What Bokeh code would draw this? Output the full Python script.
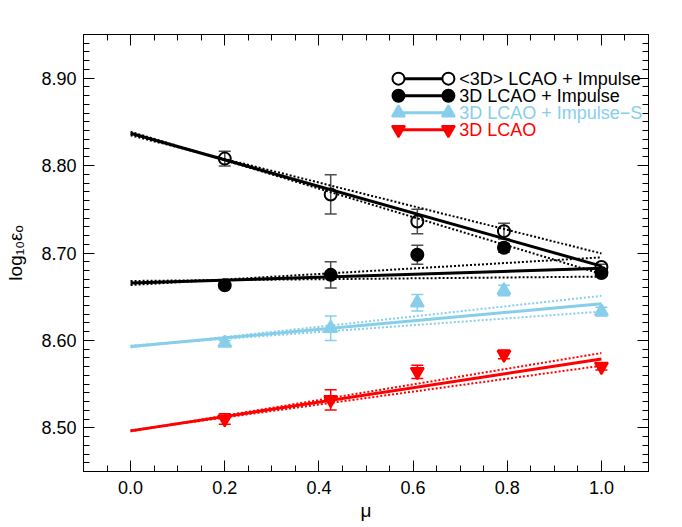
from bokeh.plotting import figure
from bokeh.models import (ColumnDataSource, Whisker, TeeHead, FixedTicker, LinearAxis,
                          Label, PrintfTickFormatter, Range1d)
from bokeh.embed import file_html
from bokeh.resources import INLINE

# ---------------- data ----------------
mu = [0.2, 0.425, 0.609, 0.793, 1.0]

avg3d_imp = [8.808, 8.767, 8.736, 8.725, 8.684]
avg3d_imp_err = [0.0085, 0.0225, 0.014, 0.009, 0.003]
lcao_imp = [8.663, 8.675, 8.698, 8.706, 8.677]
lcao_imp_err = [0.003, 0.015, 0.011, 0.005, 0.003]
lcao_imp_s = [8.597, 8.614, 8.643, 8.657, 8.633]
lcao_imp_s_err = [0.003, 0.014, 0.0095, 0.006, 0.005]
lcao = [8.510, 8.532, 8.564, 8.584, 8.570]
lcao_err = [0.006, 0.0115, 0.0075, 0.005, 0.004]

fit_mu = [0.0, 1.0]
avg3d_imp_fit = [8.837, 8.685]
avg3d_imp_fit_hi = [8.8346, 8.6995]
avg3d_imp_fit_lo = [8.8387, 8.676]
lcao_imp_fit = [8.6656, 8.6825]
lcao_imp_fit_hi = [8.6633, 8.695]
lcao_imp_fit_lo = [8.668, 8.673]
lcao_imp_s_fit = [8.593, 8.642]
lcao_imp_s_fit_hi = [8.592, 8.651]
lcao_imp_s_fit_lo = [8.594, 8.633]
lcao_fit = [8.4965, 8.5786]
lcao_fit_hi = [8.496, 8.5855]
lcao_fit_lo = [8.497, 8.571]

x_major = [0.0, 0.2, 0.4, 0.6, 0.8, 1.0]
x_minor = [round(-0.1 + 0.05 * i, 2) for i in range(25)]
y_major = [8.50, 8.60, 8.70, 8.80, 8.90]
y_minor = [round(8.45 + 0.01 * i, 2) for i in range(51)]

labels = ["<3D> LCAO + Impulse", "3D LCAO + Impulse", "3D LCAO + Impulse\u2212S", "3D LCAO"]
x_title = "\u03bc"
y_title = "log\u2081\u2080\u03b5\u2092"

BLUE = "#87CEEB"
RED = "#FF0000"
FONT = "Liberation Sans"

series = [
    dict(y=avg3d_imp, e=avg3d_imp_err, fit=avg3d_imp_fit, hi=avg3d_imp_fit_hi, lo=avg3d_imp_fit_lo,
         color="black", ecolor="#4d4d4d", marker="circle", fill=None),
    dict(y=lcao_imp, e=lcao_imp_err, fit=lcao_imp_fit, hi=lcao_imp_fit_hi, lo=lcao_imp_fit_lo,
         color="black", ecolor="#4d4d4d", marker="circle", fill="black"),
    dict(y=lcao_imp_s, e=lcao_imp_s_err, fit=lcao_imp_s_fit, hi=lcao_imp_s_fit_hi, lo=lcao_imp_s_fit_lo,
         color=BLUE, ecolor=BLUE, marker="triangle", fill=BLUE),
    dict(y=lcao, e=lcao_err, fit=lcao_fit, hi=lcao_fit_hi, lo=lcao_fit_lo,
         color=RED, ecolor=RED, marker="inverted_triangle", fill=RED),
]

p = figure(width=682, height=527, x_range=Range1d(-0.1, 1.1), y_range=Range1d(8.45, 8.95),
           output_backend="svg", toolbar_location=None,
           min_border_left=83, min_border_right=34, min_border_top=34, min_border_bottom=56)
p.grid.visible = False
p.outline_line_color = "black"
p.outline_line_width = 1
p.background_fill_color = "white"
p.border_fill_color = "white"


def style_axis(ax, major, minor, fmt, show_labels=True):
    ax.ticker = FixedTicker(ticks=major, minor_ticks=minor)
    ax.major_tick_in = 11
    ax.major_tick_out = 0
    ax.minor_tick_in = 6
    ax.minor_tick_out = 0
    ax.axis_line_color = "black"
    ax.major_tick_line_color = "black"
    ax.minor_tick_line_color = "black"
    ax.major_tick_line_width = 1
    ax.minor_tick_line_width = 1
    if show_labels:
        ax.formatter = PrintfTickFormatter(format=fmt)
        ax.major_label_text_font = FONT
        ax.major_label_text_font_size = "18px"
        ax.major_label_text_color = "black"
        ax.axis_label_text_font = FONT
        ax.axis_label_text_font_style = "normal"
        ax.axis_label_text_font_size = "19px"
        ax.axis_label_text_color = "black"
    else:
        ax.major_label_overrides = {t: "" for t in major}
        ax.major_label_text_font_size = "0px"
        ax.major_label_standoff = 0


style_axis(p.xaxis[0], x_major, x_minor, "%.1f")
p.xaxis[0].major_label_standoff = 9
p.xaxis[0].axis_label = x_title
p.xaxis[0].axis_label_standoff = 3
style_axis(p.yaxis[0], y_major, y_minor, "%.2f")
p.yaxis[0].major_label_standoff = 7
p.yaxis[0].axis_label = y_title
p.yaxis[0].axis_label_standoff = 12

top = LinearAxis()
style_axis(top, x_major, x_minor, None, show_labels=False)
p.add_layout(top, "above")
right = LinearAxis()
style_axis(right, y_major, y_minor, None, show_labels=False)
p.add_layout(right, "right")

# fits and confidence lines
for s in series:
    p.line(fit_mu, s["hi"], line_color=s["color"], line_width=2, line_dash="2 2")
    p.line(fit_mu, s["lo"], line_color=s["color"], line_width=2, line_dash="2 2")
    p.line(fit_mu, s["fit"], line_color=s["color"], line_width=3)

# error bars and markers
for s in series:
    src = ColumnDataSource(dict(x=mu, y=s["y"],
                                lower=[v - e for v, e in zip(s["y"], s["e"])],
                                upper=[v + e for v, e in zip(s["y"], s["e"])]))
    w = Whisker(base="x", lower="lower", upper="upper", source=src, dimension="height",
                line_color=s["ecolor"], line_width=1.5,
                upper_head=TeeHead(size=12, line_color=s["ecolor"], line_width=1.5),
                lower_head=TeeHead(size=12, line_color=s["ecolor"], line_width=1.5))
    p.add_layout(w)
    p.scatter("x", "y", source=src, marker=s["marker"], size=12 if "circle" in s["marker"] else 13,
              line_color=s["color"], line_width=2, fill_color=s["fill"])

# legend (drawn IDL-style: line with a symbol at each end)
leg_x0, leg_x1, leg_tx = 0.569, 0.675, 0.698
leg_y0, leg_dy = 8.8995, 0.0195
for i, (s, lab) in enumerate(zip(series, labels)):
    ly = leg_y0 - i * leg_dy
    p.line([leg_x0, leg_x1], [ly, ly], line_color=s["color"], line_width=3)
    p.scatter([leg_x0, leg_x1], [ly, ly], marker=s["marker"],
              size=12 if "circle" in s["marker"] else 13,
              line_color=s["color"], line_width=2,
              fill_color=s["fill"] if s["fill"] is not None else "white")
    p.add_layout(Label(x=leg_tx, y=ly, text=lab, text_font=FONT, text_font_size="18px",
                       text_color=s["color"], text_baseline="middle", text_align="left"))

open("out.html", "w").write(file_html(p, INLINE))
